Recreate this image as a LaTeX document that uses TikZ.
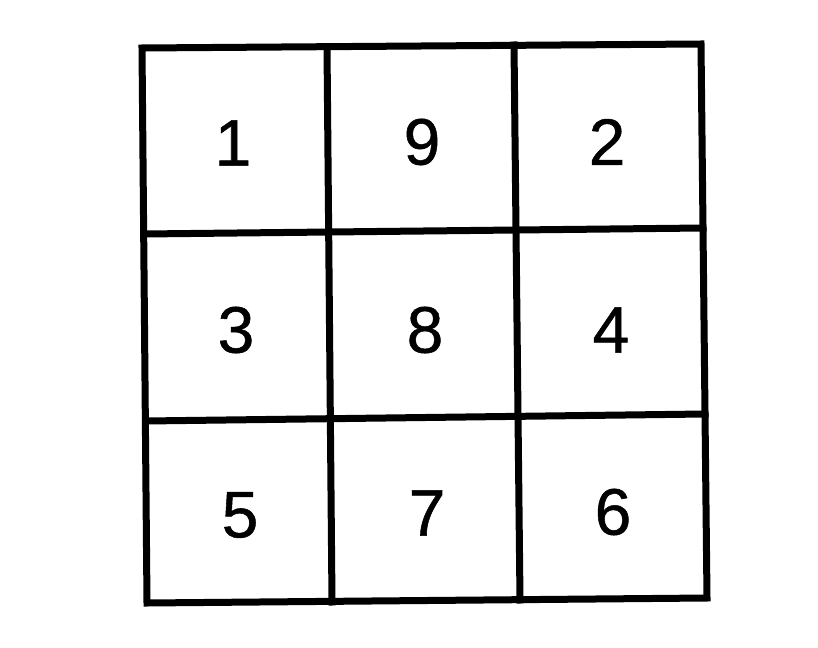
\documentclass[tikz,border=0pt]{standalone}
\usepackage{fontspec}
\setmainfont{Liberation Sans}
\newfontfamily\numfont[FakeBold=0.8]{Liberation Sans}
\begin{document}
\begin{tikzpicture}[x=1bp,y=-1bp,
  gridline/.style={line width=7bp, line cap=rect, line join=miter, black},
  num/.style={font=\numfont\fontsize{66}{66}\selectfont, inner sep=0pt, anchor=center}]
\useasboundingbox (0,0) rectangle (818,648);
\coordinate (TL) at (142,48);
\coordinate (TR) at (701,44);
\coordinate (BR) at (707,598);
\coordinate (BL) at (147,603);
\coordinate (v1t) at (327,47);
\coordinate (v1b) at (332,602);
\coordinate (v2t) at (514,45);
\coordinate (v2b) at (520,600);
\coordinate (h1l) at (144,234);
\coordinate (h1r) at (703,228);
\coordinate (h2l) at (146,421);
\coordinate (h2r) at (705,414);
\draw[gridline] (TL) -- (TR) -- (BR) -- (BL) -- cycle;
\draw[gridline] (v1t) -- (v1b);
\draw[gridline] (v2t) -- (v2b);
\draw[gridline] (h1l) -- (h1r);
\draw[gridline] (h2l) -- (h2r);
\node[num] (n1) at (233,143) {1};
\node[num] (n9) at (422,142) {9};
\node[num] (n2) at (607,142) {2};
\node[num] (n3) at (236,330) {3};
\node[num] (n8) at (425,330) {8};
\node[num] (n4) at (611,330) {4};
\node[num] (n5) at (240,515) {5};
\node[num] (n7) at (427,513) {7};
\node[num] (n6) at (613,512) {6};
\end{tikzpicture}
\end{document}
